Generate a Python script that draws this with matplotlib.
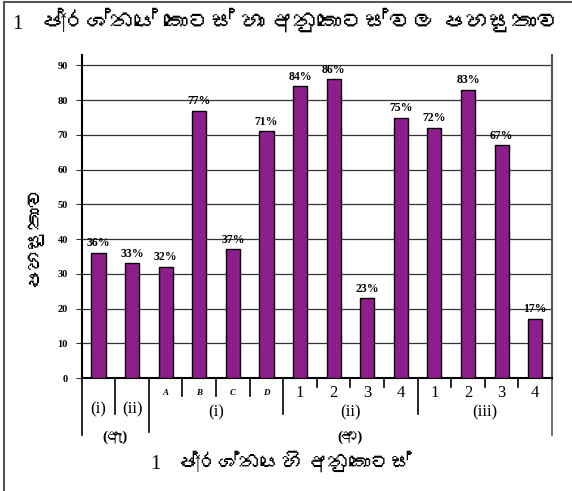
import matplotlib
matplotlib.use("Agg")
import matplotlib.pyplot as plt
from matplotlib import font_manager
from matplotlib.ft2font import FT2Font
from matplotlib.lines import Line2D

# data
values = [36, 33, 32, 77, 37, 71, 84, 86, 23, 75, 72, 83, 67, 17]
sub_labels = ['(i)', '(ii)', 'A', 'B', 'C', 'D', '1', '2', '3', '4', '1', '2', '3', '4']
part_labels = ['(i)', '(ii)', '(iii)']
part_spans = [(2, 5), (6, 9), (10, 13)]
group_labels = ['(ඇ)', '(ආ)']
group_spans = [(0, 1), (2, 13)]
yticks = [0, 10, 20, 30, 40, 50, 60, 70, 80, 90]

title_num = '1'
title = 'ප්‍රශ්නයේ කොටස් හා අනුකොටස්වල පහසුතාව'
xlabel_num = '1'
xlabel = 'ප්‍රශ්නයෙහි අනුකොටස්'
ylabel = 'පහසුතාව'


# look for any installed font that covers Sinhala
def find_sinhala():
    for f in font_manager.fontManager.ttflist:
        if 'CJK' in f.name:
            continue
        try:
            if 0x0DB4 in FT2Font(f.fname).get_charmap():
                return f.name
        except Exception:
            pass
    return None


sin = find_sinhala()
fams = ['Liberation Serif'] + ([sin] if sin else []) + ['DejaVu Sans']

W, H = 572, 491
fig = plt.figure(figsize=(W / 100, H / 100), dpi=100)
ax = fig.add_axes([81.7 / W, 1 - 378 / H, (552 - 81.7) / W, (378 - 55) / H])


def fy(py):  # pixel row -> axes fraction
    return (378 - py) / 323.0


x = list(range(len(values)))
ax.bar(x, values, width=0.42, color='#8E1E8C', edgecolor='black', linewidth=1, zorder=3)
for xi, v in zip(x, values):
    ax.text(xi, v + 1.0, f'{v}%', ha='center', va='bottom', fontsize=8.5,
            fontweight='bold', family=fams, zorder=4)

ax.set_xlim(-0.5, len(values) - 0.5)
ax.set_ylim(0, 93)
ax.set_yticks(yticks)
ax.set_yticklabels([str(t) for t in yticks], fontsize=7.5, fontweight='bold', family=fams)
ax.set_xticks([])
ax.yaxis.grid(True, color='#333333', linewidth=0.9, zorder=0)
ax.tick_params(axis='y', length=4, color='#333333', pad=6)
ax.spines['top'].set_visible(False)
ax.spines['left'].set_linewidth(1.5)
ax.spines['bottom'].set_linewidth(1.5)
ax.spines['right'].set_color('#555555')
ax.spines['right'].set_linewidth(1.5)

# category table below the axis
tr = ax.get_xaxis_transform()
long_b = {-0.5: 435, 13.5: 435, 1.5: 432, 0.5: 414, 5.5: 414, 9.5: 414}
for k in range(len(values) + 1):
    b = k - 0.5
    if b in long_b:
        py = long_b[b]
    elif 2 <= k <= 5:
        py = 396
    else:
        py = 387
    col = '#555555' if b == 13.5 else 'black'
    ax.plot([b, b], [0, fy(py)], transform=tr, clip_on=False, color=col, lw=1.2)

for xi, lab in zip(x, sub_labels):
    if lab in ('A', 'B', 'C', 'D'):
        ax.text(xi, fy(393), lab, transform=tr, ha='center', va='center',
                fontsize=6.5, fontstyle='italic', fontweight='bold', family=fams)
    elif lab.startswith('('):
        ax.text(xi, fy(409), lab, transform=tr, ha='center', va='center',
                fontsize=12, family=fams)
    else:
        ax.text(xi, fy(393), lab, transform=tr, ha='center', va='center',
                fontsize=12, family=fams)

for lab, (a, b) in zip(part_labels, part_spans):
    ax.text((a + b) / 2, fy(412), lab, transform=tr, ha='center', va='center',
            fontsize=12, family=fams)

for lab, (a, b) in zip(group_labels, group_spans):
    ax.text((a + b) / 2, fy(437), lab, transform=tr, ha='center', va='center',
            fontsize=11, fontweight='bold', family=fams)

# titles and frame (number and Sinhala words share a baseline)
fig.text(12 / W, 1 - 29 / H, title_num, ha='left', va='baseline', fontsize=15, family=fams)
fig.text(40 / W, 1 - 29 / H, title, ha='left', va='baseline', fontsize=17, family=fams)
fig.text(150 / W, 1 - 469 / H, xlabel_num, ha='left', va='baseline', fontsize=15, family=fams)
fig.text(177 / W, 1 - 469 / H, xlabel, ha='left', va='baseline', fontsize=15, family=fams)
fig.text(34 / W, 1 - 235 / H, ylabel, ha='center', va='center', rotation=90,
         fontsize=15, family=fams)
fig.add_artist(Line2D([4 / W, 1], [1 - 2 / H] * 2, transform=fig.transFigure,
                      color='#555555', lw=1.5))
fig.add_artist(Line2D([4 / W] * 2, [0, 1 - 2 / H], transform=fig.transFigure,
                      color='#555555', lw=1.5))

fig.savefig('out.png', dpi=100)
